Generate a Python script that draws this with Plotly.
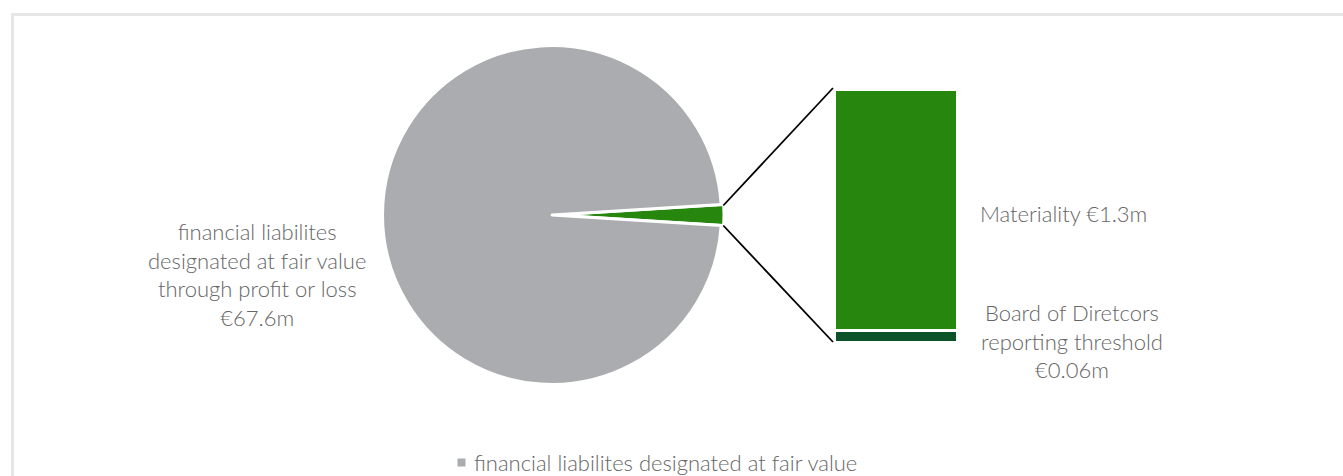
import math
import plotly.graph_objects as go

# ---- data ----
pie_labels = ["other", "financial liabilites designated at fair value"]
other_parts_labels = ["Board of Diretcors reporting threshold", "Materiality"]
other_parts_values = [0.06, 1.3]
main_value = 67.6
pie_values = [sum(other_parts_values), main_value]  # green slice first

pie_label_text = "financial liabilites<br>designated at fair value<br>through profit or loss<br>€67.6m"
mat_text = "Materiality €1.3m"
bod_text = "Board of Diretcors<br>reporting threshold<br>€0.06m"
legend_text = "financial liabilites designated at fair value"

W, H = 1343, 476
GRAY = "#ABACB0"
GREEN = "#26860E"
DKGREEN = "#0B5229"
TXT = "#666666"
FONT = "Lato"
FW = 300

# ---- geometry (pixels) ----
cx, cy, r = 552, 215, 168
pull = 0.015
bar_x0, bar_x1 = 834, 957
bar_top, bar_bot = 89, 342

def px(x):
    return x / W

def py(y):
    return 1 - y / H

fig = go.Figure()

half = 360 * pie_values[0] / sum(pie_values) / 2
rd = r * (1 + pull) + 1.5
fig.add_trace(go.Pie(
    labels=pie_labels,
    values=pie_values,
    sort=False,
    direction="clockwise",
    rotation=90 - half,
    pull=[pull, 0],
    marker=dict(colors=[GREEN, GRAY], line=dict(color="white", width=3)),
    textinfo="none",
    hoverinfo="label+value",
    showlegend=False,
    domain=dict(x=[px(cx - rd), px(cx + rd)], y=[py(cy + rd), py(cy - rd)]),
))

# stacked bar for the "other" breakdown
bar_colors = [DKGREEN, GREEN]
for lab, val, col in zip(other_parts_labels, other_parts_values, bar_colors):
    fig.add_trace(go.Bar(
        x=[0], y=[val], name=lab, width=1,
        marker=dict(color=col, line=dict(color="white", width=3)),
        showlegend=False, hoverinfo="name+y",
    ))

# connector lines from slice edge to bar corners
R = r * (1 + pull) + 1
a = math.radians(half * 0.8)
p_top = (cx + R * math.cos(a), cy - R * math.sin(a) - 1)
p_bot = (cx + R * math.cos(a), cy + R * math.sin(a) + 2)

# legend (drawn manually so it does not push the margins)
leg_sq_x, leg_y, leg_sq = 461.5, 462.5, 8
shapes = [
    dict(type="line", xref="paper", yref="paper",
         x0=px(p_top[0]), y0=py(p_top[1]), x1=px(bar_x0 - 1), y1=py(bar_top - 1),
         line=dict(color="black", width=1.8)),
    dict(type="line", xref="paper", yref="paper",
         x0=px(p_bot[0]), y0=py(p_bot[1]), x1=px(bar_x0 - 1), y1=py(bar_bot),
         line=dict(color="black", width=1.8)),
    dict(type="rect", xref="paper", yref="paper",
         x0=px(12.5), y0=-0.02, x1=1.02, y1=py(14.5),
         line=dict(color="#E6E6E6", width=3), layer="below"),
    dict(type="rect", xref="paper", yref="paper",
         x0=px(leg_sq_x - leg_sq / 2), x1=px(leg_sq_x + leg_sq / 2),
         y0=py(leg_y + leg_sq / 2), y1=py(leg_y - leg_sq / 2),
         fillcolor=GRAY, line=dict(width=0)),
]

annotations = [
    dict(text=pie_label_text, x=px(257), y=py(274), xref="paper", yref="paper",
         showarrow=False, align="center", xanchor="center", yanchor="middle",
         font=dict(family=FONT, size=22, color=TXT, weight=FW)),
    dict(text=mat_text, x=px(978), y=py(214), xref="paper", yref="paper",
         showarrow=False, align="left", xanchor="left", yanchor="middle",
         font=dict(family=FONT, size=22, color=TXT, weight=FW)),
    dict(text=bod_text, x=px(1072), y=py(341), xref="paper", yref="paper",
         showarrow=False, align="center", xanchor="center", yanchor="middle",
         font=dict(family=FONT, size=22, color=TXT, weight=FW)),
    dict(text=legend_text, x=px(472), y=py(leg_y), xref="paper", yref="paper",
         showarrow=False, align="left", xanchor="left", yanchor="middle",
         font=dict(family=FONT, size=22, color=TXT, weight=FW)),
]

fig.update_layout(
    width=W, height=H,
    margin=dict(l=0, r=0, t=0, b=0),
    paper_bgcolor="white", plot_bgcolor="rgba(0,0,0,0)",
    barmode="stack",
    showlegend=False,
    xaxis=dict(domain=[px(bar_x0), px(bar_x1)], range=[-0.5, 0.5], visible=False, fixedrange=True),
    yaxis=dict(domain=[py(bar_bot), py(bar_top)], range=[0, sum(other_parts_values)],
               visible=False, fixedrange=True),
    shapes=shapes,
    annotations=annotations,
    font=dict(family=FONT, color=TXT),
)

fig.write_html("out.html", config={"displayModeBar": False},
               post_script="document.body.style.margin='0';")
